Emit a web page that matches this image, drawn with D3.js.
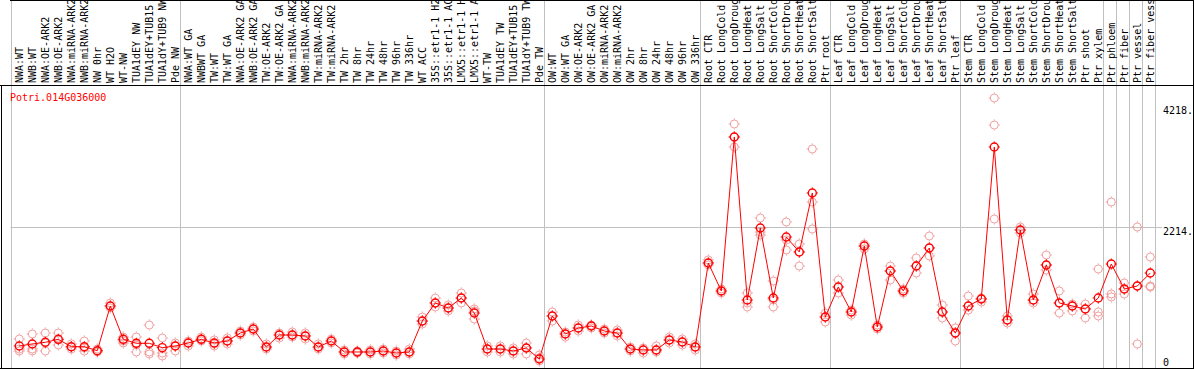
<!DOCTYPE html>
<html>
<head>
  <title></title>
  <meta charset="utf-8">
<style>
  body { margin: 0; background-color: #fff; }
  text { font-family: "DejaVu Sans Mono", monospace; font-size: 10px; }
  .frame { stroke: #000; stroke-width: 1; }
  .sep { stroke: #c0c0c0; stroke-width: 1; }
</style>
</head>
<body>
<svg width="1194" height="370"></svg>
<script src="https://d3js.org/d3.v7.min.js"></script>
<script>

// Column labels
var labels = ["NWA:WT", "NWB:WT", "NWA:OE-ARK2", "NWB:OE-ARK2", "NWA:miRNA-ARK2", "NWB:miRNA-ARK2",
  "NW 0hr", "WT H2O", "WT-NW", "TUA1dEY NW", "TUA1dEY+TUB15 NW", "TUA1dY+TUB9 NW", "Pde NW",
  "NWA:WT GA", "NWBWT GA", "TW:WT", "TW:WT GA", "NWA:OE-ARK2 GA", "NWB:OE-ARK2 GA", "TW:OE-ARK2",
  "TW:OE-ARK2 GA", "NWA:miRNA-ARK2", "NWB:miRNA-ARK2", "TW:miRNA-ARK2", "TW:miRNA-ARK2",
  "TW 2hr", "TW 8hr", "TW 24hr", "TW 48hr", "TW 96hr", "TW 336hr", "WT ACC",
  "35S::etr1-1 H2O", "35S::etr1-1 ACC", "LMX5::etr1-1 H2O", "LMX5::etr1-1 ACC", "WT-TW",
  "TUA1dEY TW", "TUA1dEY+TUB15 TW", "TUA1dY+TUB9 TW", "Pde TW",
  "OW:WT", "OW:WT GA", "OW:OE-ARK2", "OW:OE-ARK2 GA", "OW:miRNA-ARK2", "OW:miRNA-ARK2",
  "OW 2hr", "OW 8hr", "OW 24hr", "OW 48hr", "OW 96hr", "OW 336hr",
  "Root CTR", "Root LongCold", "Root LongDrought", "Root LongHeat", "Root LongSalt",
  "Root ShortCold", "Root ShortDrought", "Root ShortHeat", "Root ShortSalt", "Ptr root",
  "Leaf CTR", "Leaf LongCold", "Leaf LongDrought", "Leaf LongHeat", "Leaf LongSalt",
  "Leaf ShortCold", "Leaf ShortDrought", "Leaf ShortHeat", "Leaf ShortSalt", "Ptr leaf",
  "Stem CTR", "Stem LongCold", "Stem LongDrought", "Stem LongHeat", "Stem LongSalt",
  "Stem ShortCold", "Stem ShortDrought", "Stem ShortHeat", "Stem ShortSalt", "Ptr shoot",
  "Ptr xylem", "Ptr phloem", "Ptr fiber", "Ptr vessel", "Ptr fiber vessel"];

// Mean expression per column
var means = [248, 281, 309, 358, 236, 236, 170, 908, 358, 292, 292, 220, 248,
  297, 358, 297, 330, 462, 528, 231, 429, 429, 413, 231, 330, 149, 149, 149, 165, 132, 149,
  660, 958, 875, 1040, 792, 198, 198, 165, 215, 33,
  743, 446, 545, 578, 495, 462, 198, 182, 182, 347, 314, 231,
  1618, 1156, 3698, 1007, 2196, 1040, 2047, 1800, 2774, 726,
  1222, 809, 1899, 561, 1486, 1156, 1568, 1866, 809, 462,
  908, 1024, 3533, 677, 2163, 1007, 1585, 958, 908, 859,
  1040, 1601, 1189, 1238, 1453];

// Replicates
var rep1 = [363, 446, 462, 462, 281, 330, 198, 958, 396, 396, 594, 380, 297,
  330, 396, 347, 380, 495, 561, 281, 462, 479, 462, 281, 363, 182, 165, 182, 198, 165, 198,
  726, 1040, 925, 1123, 859, 248, 248, 215, 297, 99,
  809, 479, 594, 594, 528, 512, 231, 215, 248, 396, 363, 281,
  1668, 1189, 3913, 1123, 2361, 1321, 2295, 1932, 3500, 792,
  1337, 842, 1932, 594, 1568, 1189, 1701, 2064, 925, 545,
  1073, 1040, 4342, 743, 2212, 1106, 1750, 1156, 941, 941,
  1519, 2625, 1288, 2212, 1717];
var rep2 = [198, 198, 165, 264, 198, 165, 149, 875, 297, 149, 149, 132, 165,
  248, 330, 248, 281, 429, 495, 198, 380, 396, 363, 198, 297, 116, 132, 116, 132, 99, 116,
  611, 892, 826, 958, 693, 149, 149, 116, 116, 0,
  660, 396, 495, 545, 462, 413, 165, 132, 149, 297, 264, 182,
  1585, 1123, 3533, 958, 2130, 892, 1998, 1568, 2625, 644,
  1123, 759, 1849, 528, 1337, 1123, 1453, 1734, 710, 330,
  842, 974, 3896, 627, 2113, 958, 1502, 792, 826, 710,
  809, 1106, 1106, 281, 1238];
var rep3 = [165, 165, 297, 347, 231, 215, 165, 908, 330, 264, 116, 83, 248,
  297, 363, 281, 330, 462, 528, 231, 429, 429, 413, 231, 330, 149, 149, 149, 165, 132, 149,
  660, 958, 875, 1040, 826, 198, 198, 165, 215, 50,
  743, 446, 545, 578, 495, 462, 198, 182, 182, 347, 314, 231,
  1618, 1156, 3698, 892, 2080, 1007, 1833, 1800, 2179, 726,
  1222, 809, 1899, 561, 1486, 1156, 1568, 1866, 809, 462,
  908, 1024, 2344, 677, 2163, 1007, 1585, 958, 908, 859,
  743, 1057, 1189, 1238, 1222];

var yTicks = [0, 2214, 4218];
var gridTicks = [2214];
// column index where a grey divider is drawn
var groupBreaks = [0, 13, 41, 53, 63, 73, 84, 85, 86, 87, 88];
var geneName = "Potri.014G036000";

var svg = d3.select("svg"),
    width = +svg.attr("width"),
    height = +svg.attr("height");

var idx = d3.range(labels.length);
var x = d3.scaleBand()
    .domain(idx)
    .range([12.8, 12.8 + 13 * labels.length]);
var cx = function(i) { return x(i) + x.bandwidth() / 2; };

var y = d3.scaleLinear()
    .domain([0, 4218])
    .range([361, 105.5]);

// grey dividers
svg.append("g").selectAll("line")
  .data(groupBreaks)
  .enter().append("line")
    .attr("class", "sep")
    .attr("x1", function(k) { return Math.round(12.8 + 13 * k - 2) + 0.5; })
    .attr("x2", function(k) { return Math.round(12.8 + 13 * k - 2) + 0.5; })
    .attr("y1", 0)
    .attr("y2", 368);

// horizontal grid
svg.append("g").selectAll("line")
  .data(gridTicks)
  .enter().append("line")
    .attr("class", "sep")
    .attr("x1", 10.5)
    .attr("x2", 1162)
    .attr("y1", function(d) { return Math.round(y(d)) + 0.5; })
    .attr("y2", function(d) { return Math.round(y(d)) + 0.5; });

// frame
svg.append("line").attr("class", "frame").attr("x1", 10).attr("x2", width).attr("y1", 0.5).attr("y2", 0.5);
svg.append("line").attr("class", "frame").attr("x1", 0).attr("x2", width).attr("y1", 85.5).attr("y2", 85.5);
svg.append("line").attr("class", "frame").attr("x1", 0).attr("x2", width).attr("y1", 368.5).attr("y2", 368.5);
svg.append("line").attr("class", "frame").attr("x1", 1.5).attr("x2", 1.5).attr("y1", 85).attr("y2", 369);
svg.append("line").attr("class", "frame").attr("x1", 1193.5).attr("x2", 1193.5).attr("y1", 0).attr("y2", 369);

// column labels
svg.append("g").selectAll("text")
  .data(idx)
  .enter().append("text")
    .attr("transform", function(i) { return "translate(" + (cx(i) + 3.6) + ",83) rotate(-90)"; })
    .attr("fill", "#000")
    .text(function(i) { return labels[i]; });

// y tick labels
svg.append("g").selectAll("text")
  .data(yTicks)
  .enter().append("text")
    .attr("x", 1163)
    .attr("y", function(d) { return Math.min(y(d) + 8.5, 366); })
    .attr("fill", "#000")
    .text(function(d) { return d === 0 ? "0" : d + "."; });

svg.append("text")
    .attr("x", 10)
    .attr("y", 101)
    .attr("fill", "#ff0000")
    .text(geneName);

function marker(g, color, sw) {
  g.append("circle").attr("r", 4).attr("fill", "none").attr("stroke", color).attr("stroke-width", sw);
  [[0, -1], [0, 1], [-1, 0], [1, 0]].forEach(function(v) {
    g.append("line")
      .attr("x1", v[0] * 4.3).attr("y1", v[1] * 4.3)
      .attr("x2", v[0] * 5.6).attr("y2", v[1] * 5.6)
      .attr("stroke", color).attr("stroke-width", 1);
  });
}

// replicates
[rep1, rep2, rep3].forEach(function(rep) {
  svg.append("g").selectAll("g")
    .data(idx.filter(function(i) { return rep[i] != null; }))
    .enter().append("g")
      .attr("transform", function(i) { return "translate(" + cx(i) + "," + y(rep[i]) + ")"; })
      .each(function() { marker(d3.select(this), "#f0a0a0", 1); });
});

// mean line
var line = d3.line()
    .x(function(i) { return cx(i); })
    .y(function(i) { return y(means[i]); });
svg.append("path")
    .datum(idx)
    .attr("fill", "none")
    .attr("stroke", "#ff0000")
    .attr("stroke-width", 1)
    .attr("d", line);

svg.append("g").selectAll("g")
  .data(idx)
  .enter().append("g")
    .attr("transform", function(i) { return "translate(" + cx(i) + "," + y(means[i]) + ")"; })
    .each(function() { marker(d3.select(this), "#ff0000", 1.4); });

</script>
</body>
</html>
